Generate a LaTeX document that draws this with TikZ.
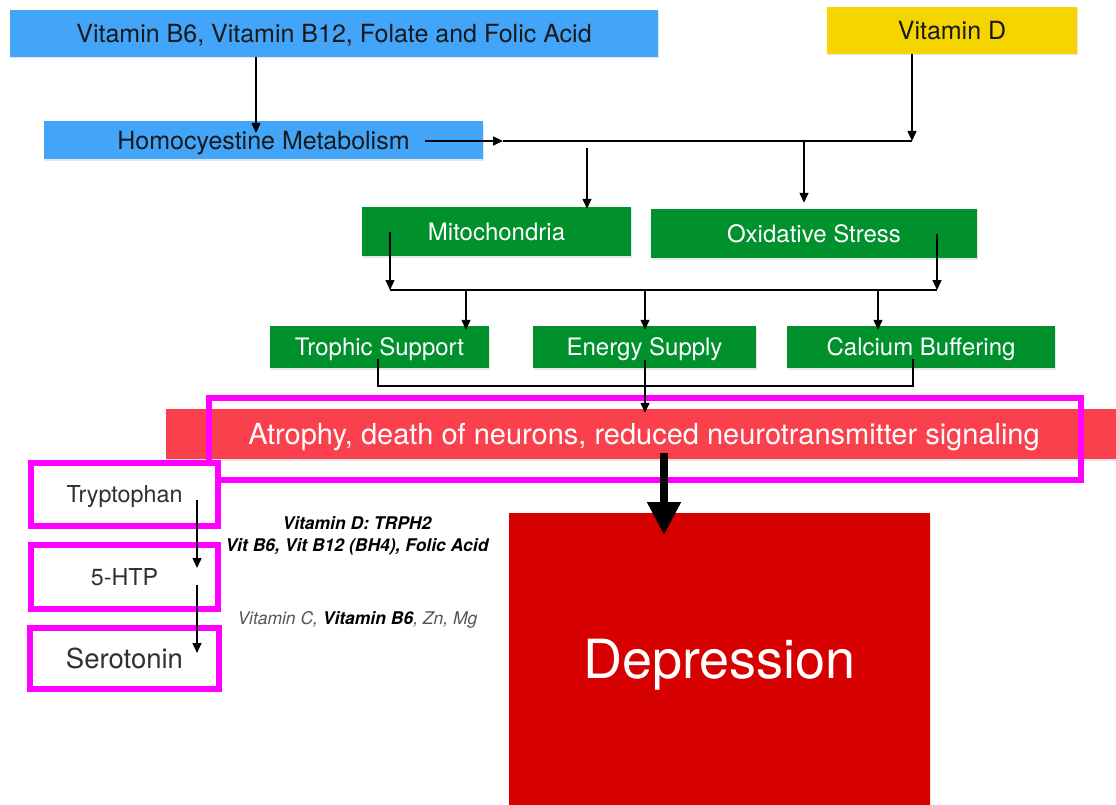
\documentclass[tikz,border=0pt]{standalone}
\usepackage{fontspec}
\setmainfont{TeX Gyre Heros}
\usetikzlibrary{arrows.meta,calc,shadows}

\definecolor{vitblue}{RGB}{66,165,250}
\definecolor{vityellow}{RGB}{245,212,0}
\definecolor{pathgreen}{RGB}{0,145,45}
\definecolor{bandred}{RGB}{250,64,76}
\definecolor{deprred}{RGB}{214,0,0}
\definecolor{hlmagenta}{RGB}{255,0,255}
\definecolor{textdark}{RGB}{25,25,25}
\definecolor{cofgray}{RGB}{85,85,85}

\begin{document}
\begin{tikzpicture}[
    x=1pt, y=-1pt,
    box/.style={rectangle, inner sep=0pt, align=center, text depth=0pt,
        drop shadow={opacity=0.2, shadow xshift=1pt, shadow yshift=-1.5pt}},
    vitbox/.style={box, fill=vitblue, text=textdark, font=\fontsize{25}{30}\selectfont},
    greenbox/.style={box, fill=pathgreen, text=white, font=\fontsize{24}{29}\selectfont},
    serobox/.style={rectangle, inner sep=0pt, text depth=0pt, draw=hlmagenta, line width=6pt,
        fill=white, text=textdark!90, font=\fontsize{23.3}{28}\selectfont},
    hl/.style={draw=hlmagenta, line width=6pt},
    cof/.style={align=center, font=\fontsize{17.5}{22}\selectfont\itshape},
    arr/.style={-{Triangle[length=10pt,width=9pt]}, line width=1.4pt},
    link/.style={line width=1.4pt},
    bigarr/.style={-{Triangle[length=33pt,width=32pt]}, line width=8pt}
]
\useasboundingbox (0,0) rectangle (1116,805);

% Sources
\node[vitbox, minimum width=648pt, minimum height=47pt] (vitb) at (334,33.5)
    {Vitamin B6, Vitamin B12, Folate and Folic Acid};
\node[vitbox, fill=vityellow, minimum width=250pt, minimum height=47pt] (vitd) at (952,30.5)
    {Vitamin D};
\node[vitbox, minimum width=439pt, minimum height=38pt] (homo) at (263.5,140.5)
    {Homocyestine Metabolism};

% Cellular level
\node[greenbox, minimum width=269pt, minimum height=49pt] (mito) at (496.5,231.5) {Mitochondria};
\node[greenbox, minimum width=326pt, minimum height=49pt] (oxid) at (814,233.5) {Oxidative Stress};
\node[greenbox, minimum width=219pt, minimum height=42pt] (troph) at (379.5,347) {Trophic Support};
\node[greenbox, minimum width=223pt, minimum height=42pt] (energy) at (644.5,347) {Energy Supply};
\node[greenbox, minimum width=268pt, minimum height=42pt] (calc) at (921,347) {Calcium Buffering};

% Outcome
\node[box, fill=bandred, text=white, minimum width=950pt, minimum height=50pt,
    font=\fontsize{29}{34}\selectfont] (atrophy) at (641,434)
    {\hspace*{6pt}Atrophy, death of neurons, reduced neurotransmitter signaling};
\node[hl, minimum width=872pt, minimum height=82pt] (atrhl) at (644.75,439) {};
\node[box, fill=deprred, text=white, minimum width=421pt, minimum height=292pt,
    font=\fontsize{54}{60}\selectfont] (depr) at (719.5,659) {Depression};

% Serotonin pathway
\node[serobox, minimum width=187pt, minimum height=63pt] (trp) at (124.5,494.5) {Tryptophan};
\node[serobox, minimum width=187pt, minimum height=64pt] (htp) at (124.5,577) {5-HTP};
\node[serobox, minimum width=189pt, minimum height=61pt,
    font=\fontsize{27.5}{32}\selectfont] (sero) at (124.5,658.5) {Serotonin};

% Cofactors
\node[cof, font=\fontsize{17.5}{22}\selectfont\bfseries\itshape] (cof1) at (357,536)
    {Vitamin D: TRPH2\\Vit B6, Vit B12 (BH4), Folic Acid};
\node[cof, text=cofgray] (cof2) at (357.5,620)
    {Vitamin C, \textcolor{black}{\textbf{Vitamin B6}}, Zn, Mg};

% Junction points
\coordinate (hin) at (256,133);
\coordinate (hj) at (503,141);
\coordinate (dj) at (912,141);
\coordinate (mj) at (587,148);
\coordinate (oj) at (804,141);
\coordinate (r1) at (390,290);
\coordinate (r2) at (937,290);
\coordinate (t1) at (466,290);
\coordinate (t2) at (645,290);
\coordinate (t3) at (878,290);
\coordinate (b1) at (378,386);
\coordinate (b2) at (913,386);
\coordinate (dtip) at (664,535);

% Connections - top
\draw[arr] (vitb.south -| hin) -- (hin);
\draw[arr] ($(homo.east)+(-58,0.5)$) -- (hj);
\draw[link] (hj) -- (dj);
\draw[arr] (vitd.south -| dj) -- (dj);
\draw[arr, shorten >=-2pt] (mj) -- (mj |- mito.north);
\draw[arr, shorten >=6pt] (oj) -- (oj |- oxid.north);

% Connections - middle
\draw[arr] (r1 |- mito.center) -- (r1);
\draw[arr] (r2 |- oxid.center) -- (r2);
\draw[link] (r1) -- (r2);
\foreach \t/\b in {t1/troph, t2/energy, t3/calc} {
    \draw[arr, shorten >=-4pt] (\t) -- (\t |- \b.north);
}

% Connections - bottom
\draw[link, shorten <=12pt, shorten >=12pt] (b1 |- troph.center) -- (b1) -- (b2) -- (b2 |- calc.center);
\draw[arr, shorten <=13pt, shorten >=-4pt] (t2 |- energy.center) -- (t2 |- atrophy.north);
\draw[bigarr, shorten <=-6pt] (dtip |- atrophy.south) -- (dtip);

% Serotonin synthesis
\draw[arr] ($(trp.center)+(72.5,5.5)$) -- ($(htp.center)+(72.5,-9)$);
\draw[arr] ($(htp.center)+(72.5,8)$) -- ($(sero.center)+(72.5,-5.5)$);

\end{tikzpicture}
\end{document}
